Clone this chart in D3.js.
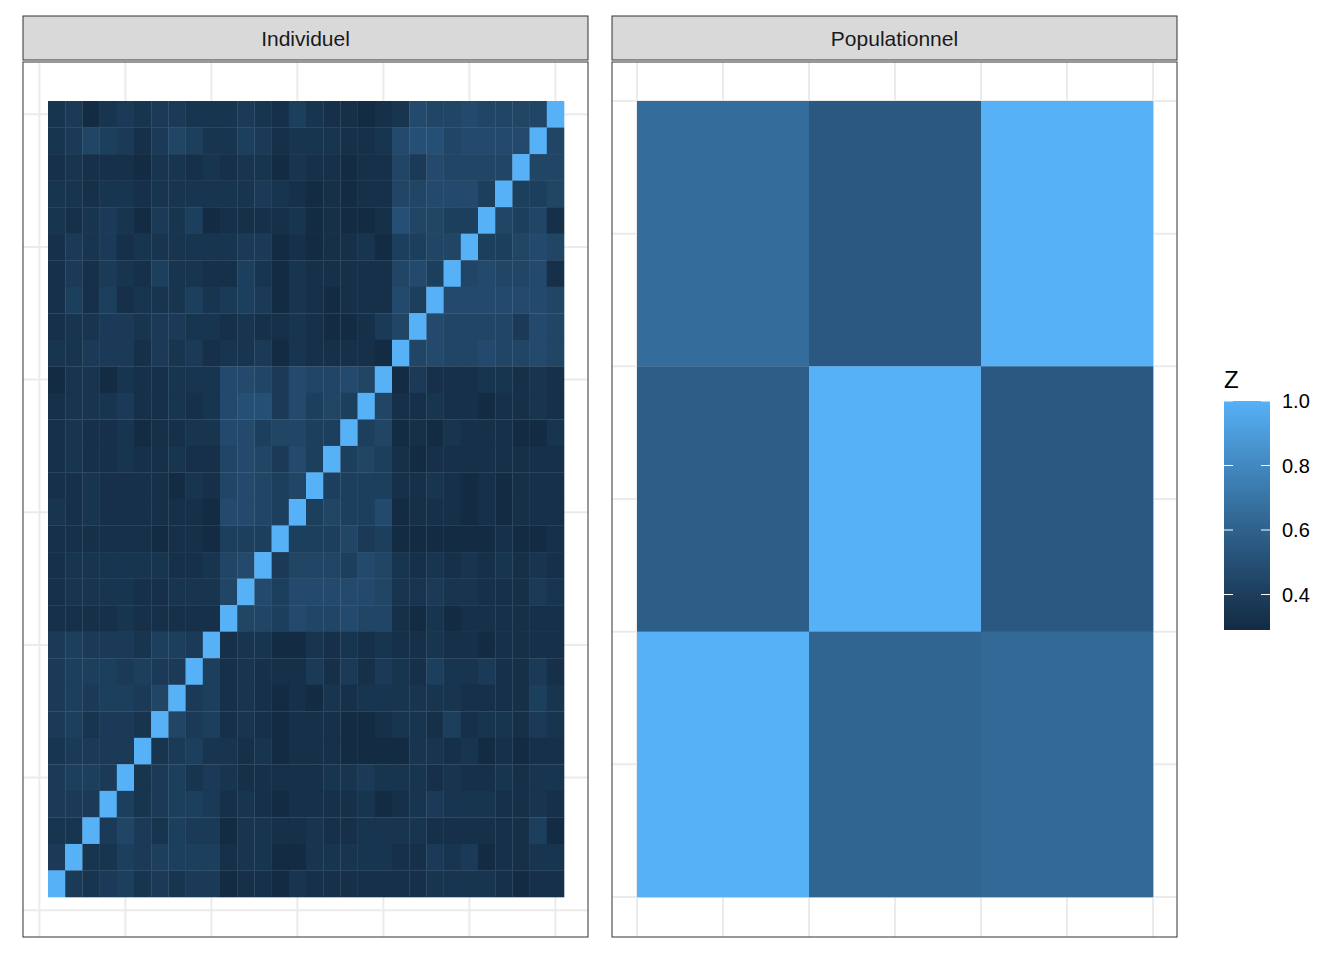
<!DOCTYPE html>
<html>
<head>
<meta charset="utf-8">
<script src="https://cdn.jsdelivr.net/npm/d3@7"></script>
<style>
  body { margin: 0; background: #fff; }
  text { font-family: "Liberation Sans", Arial, sans-serif; }
</style>
</head>
<body>
<svg id="chart" width="1344" height="960"></svg>
<script>
// individual matrix, rows from top (row 30) to bottom (row 1), digit d -> 0.29 + d*0.03, X = 1
var indivRows = [
  "230232332223214211012655655555X",
  "235431354224312221126775666 6X5",
  "121110221212202110115365555X55",
  "221221222222321010115566645X455",
  "212320324011112010017554X4545",
  "132312222223301011204455X44565",
  "131321422114202111115 6X556556",
  "141412224234302101116X56666665",
  "122332332212112100135X6555536 5",
  "22333132312230211110X565565565"
];
// clean up the strings above (spaces were typing slips)
indivRows = indivRows.map(function(s) { return s.replace(/ /g, ""); });

var indivRowsMid = [
  "022021122266536" + "556 5X031112212",
  "122231121267736" + "454X5112110112 1",
  "121120112266455" + "44X450102111002 0",
  "121121121156536" + "4X454101111111 1",
  "112111102156545" + "X444411210101 11",
  "21211111106654X" + "454460111010111",
  "1111110110444X4" + "4453400000010 01",
  "122222211256X35" + "554652121212121",
  "12222112225X646" + "666652232211132",
  "1111211111X5546" + "556551020111111"
];
indivRowsMid = indivRowsMid.map(function(s) { return s.replace(/ /g, ""); });

var indivRowsLow = [
  "343332443X12200" + "212121121101111",
  "3444343 3X4121 11" + "313132142231131",
  "34344 35X341210 1" + "021222222111142",
  "342332X534121 01" + "110012214122132",
  "23333X234221201" + "110000221201011",
  "3443X2342321111" + "122322212112122",
  "333X42344312101" + "111201232221121",
  "22X353243302211" + "211222211111140",
  "3X2243444412200" + "222221132301122",
  "X32342323301102" + "111111122221011"
];
indivRowsLow = indivRowsLow.map(function(s) { return s.replace(/ /g, ""); });

var popValues = [
  [0.66, 0.55, 1.0],
  [0.58, 1.0, 0.55],
  [1.0, 0.62, 0.64]
];
var panelTitles = ["Individuel", "Populationnel"];
var legendTicks = [0.4, 0.6, 0.8, 1.0];

// build cells: fix each row to 30 entries and force the diagonal
var allRows = indivRows.concat(indivRowsMid, indivRowsLow);
var indivCells = [];
allRows.forEach(function(s, i) {
  var y = 30 - i;
  for (var x = 1; x <= 30; x++) {
    var ch = s.charAt(x - 1) || "1";
    var v = (x === y || ch === "X") ? 1 : 0.29 + (+ch) * 0.03;
    if (x === y) v = 1;
    else if (ch === "X") v = 0.29 + 0.03 * 4;
    indivCells.push({ x: x, y: y, z: v });
  }
});
var popCells = [];
popValues.forEach(function(r, i) {
  r.forEach(function(v, j) { popCells.push({ x: j + 1, y: 3 - i, z: v }); });
});

var svg = d3.select("#chart");
var color = d3.scaleLinear().domain([0.29, 1.0]).range(["#132B43", "#56B1F7"])
  .interpolate(d3.interpolateLab).clamp(true);

function drawPanel(left, cells, n, gridStep, title) {
  var pw = 565, top = 62, bottom = 937;
  var x = d3.scaleLinear().domain([0.5, n + 0.5]).range([left + 25, left + 541]);
  var y = d3.scaleLinear().domain([0.5, n + 0.5]).range([897, 101]);
  var g = svg.append("g");
  g.append("rect").attr("x", left).attr("y", top).attr("width", pw).attr("height", bottom - top)
    .attr("fill", "#fff");
  var xb = d3.range(x.invert(left), x.invert(left + pw), 0).length ? [] : [];
  var xs = [], ys = [];
  for (var v = Math.ceil(x.invert(left) / gridStep) * gridStep; x(v) < left + pw; v += gridStep) xs.push(v);
  for (var w = Math.ceil(y.invert(bottom) / gridStep) * gridStep; y(w) > top; w += gridStep) ys.push(w);
  g.selectAll(".gx").data(xs).enter().append("line")
    .attr("x1", d => x(d)).attr("x2", d => x(d)).attr("y1", top).attr("y2", bottom)
    .attr("stroke", "#ebebeb").attr("stroke-width", 2);
  g.selectAll(".gy").data(ys).enter().append("line")
    .attr("y1", d => y(d)).attr("y2", d => y(d)).attr("x1", left).attr("x2", left + pw)
    .attr("stroke", "#ebebeb").attr("stroke-width", 2);
  var cw = x(1.5) - x(0.5), ch = y(0.5) - y(1.5);
  g.selectAll(".cell").data(cells).enter().append("rect")
    .attr("x", d => x(d.x - 0.5)).attr("y", d => y(d.y + 0.5))
    .attr("width", cw + 0.3).attr("height", ch + 0.3)
    .attr("fill", d => color(d.z));
  g.append("rect").attr("x", left).attr("y", top).attr("width", pw).attr("height", bottom - top)
    .attr("fill", "none").attr("stroke", "#333").attr("stroke-width", 1);
  g.append("rect").attr("x", left).attr("y", 16).attr("width", pw).attr("height", 44)
    .attr("fill", "#d9d9d9").attr("stroke", "#333").attr("stroke-width", 1);
  g.append("text").attr("x", left + pw / 2).attr("y", 46).attr("text-anchor", "middle")
    .attr("font-size", 21).attr("fill", "#1a1a1a").text(title);
}

drawPanel(23, indivCells, 30, 5, panelTitles[0]);
drawPanel(612, popCells, 3, 0.5, panelTitles[1]);

// legend
var lx = 1224, lw = 46, ly = d3.scaleLinear().domain([0.29, 1.0]).range([630, 401]);
var defs = svg.append("defs");
var grad = defs.append("linearGradient").attr("id", "zgrad")
  .attr("x1", 0).attr("y1", 1).attr("x2", 0).attr("y2", 0);
d3.range(0, 1.001, 0.1).forEach(function(t) {
  grad.append("stop").attr("offset", t).attr("stop-color", color(0.29 + t * 0.71));
});
svg.append("rect").attr("x", lx).attr("y", 401).attr("width", lw).attr("height", 229)
  .attr("fill", "url(#zgrad)");
svg.append("text").attr("x", lx).attr("y", 388).attr("font-size", 24).attr("fill", "#000").text("Z");
legendTicks.forEach(function(t) {
  svg.append("line").attr("x1", lx).attr("x2", lx + 9).attr("y1", ly(t)).attr("y2", ly(t))
    .attr("stroke", "#fff").attr("stroke-width", 1);
  svg.append("line").attr("x1", lx + lw - 9).attr("x2", lx + lw).attr("y1", ly(t)).attr("y2", ly(t))
    .attr("stroke", "#fff").attr("stroke-width", 1);
  svg.append("text").attr("x", 1282).attr("y", ly(t) + 7).attr("font-size", 20)
    .attr("fill", "#000").text(t.toFixed(1));
});
</script>
</body>
</html>
